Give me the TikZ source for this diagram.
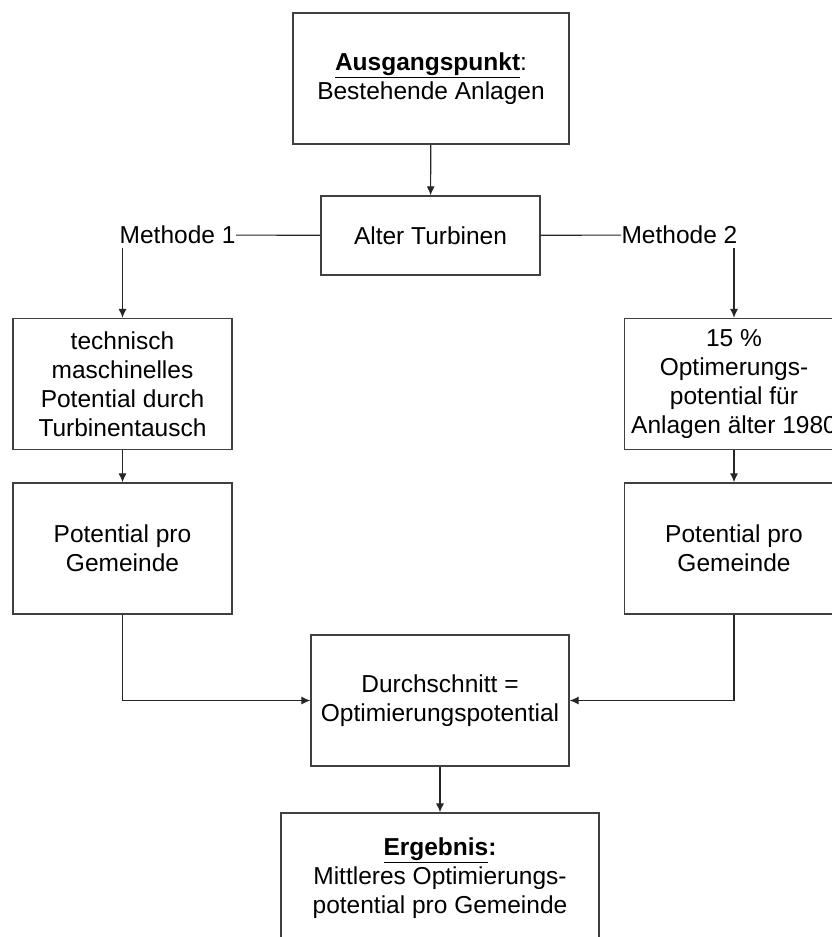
\documentclass[tikz,border=0pt]{standalone}
\usepackage{fontspec}
\setmainfont{Liberation Sans}
\usetikzlibrary{arrows.meta}
\begin{document}
\begin{tikzpicture}[x=1pt,y=-1pt]
\tikzset{base/.style={draw=black!75,line width=1.3pt,align=center,inner sep=0pt,
font=\fontsize{24.5}{29}\selectfont},
box/.style={base,minimum width=219pt,minimum height=131pt},
wide/.style={base,minimum height=131pt},
meth/.style={inner sep=0pt,font=\fontsize{24.5}{29}\selectfont},
every path/.style={>={Latex[length=9pt,width=8pt]},draw=black!85,line width=1.1pt}}
\path[use as bounding box,draw=none] (0,0) rectangle (832,937);
\node[wide,minimum width=276pt] at (431,78.5) (START) {\textbf{\underline{Ausgangspunkt}}:\\Bestehende Anlagen};
\node[base,minimum width=219pt,minimum height=79pt] at (430.5,235.5) (ALT) {Alter Turbinen};
\node[meth,anchor=east,draw=none] at (236,235) (M1) {Methode 1};
\node[meth,anchor=west,draw=none] at (621,235) (M2) {Methode 2};
\node[box] at (122.5,384) (TECH) {technisch\\maschinelles\\Potential durch\\Turbinentausch};
\node[box] at (734,384) (OPT) {15 \%\\Optimerungs-\\potential für\\Anlagen älter 1980};
\node[box] at (122.5,548.5) (POTA) {Potential pro\\Gemeinde};
\node[box] at (734,548.5) (POTB) {Potential pro\\Gemeinde};
\node[wide,minimum width=258pt] at (440,700.5) (AVG) {Durchschnitt =\\Optimierungspotential};
\node[wide,minimum width=318pt] at (440,878.5) (RES) {\textbf{\underline{Ergebnis}:}\\Mittleres Optimierungs-\\potential pro Gemeinde};
\path[->] (START) -- (ALT);
\path (ALT) -- (M1);
\path (ALT) -- (M2);
\path[->] (TECH.north |- M1.south) ++(0,3) -- (TECH.north);
\path[->] (OPT.north |- M2.south) ++(0,3) -- (OPT.north);
\path[->] (TECH) -- (POTA);
\path[->] (OPT) -- (POTB);
\path[->] (POTA.south) |- (AVG.west);
\path[->] (POTB.south) |- (AVG.east);
\path[->] (AVG) -- (RES);
\end{tikzpicture}
\end{document}
